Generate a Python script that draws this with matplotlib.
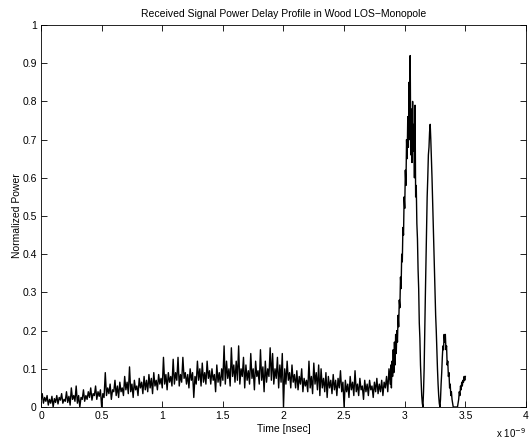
import matplotlib
matplotlib.use("Agg")
import matplotlib.pyplot as plt
import numpy as np

plt.rcParams["font.family"] = ["Liberation Sans", "DejaVu Sans"]

# background multipath floor, sampled every 0.01 ns from 0 to 2.87 ns
floor_start, floor_step = 0.0, 0.01
floor_power = [
    0.02, 0.035, 0.01, 0.025, 0.015, 0.03, 0.005, 0.02, 0.01, 0.028,
    0.0, 0.022, 0.012, 0.03, 0.008, 0.025, 0.018, 0.035, 0.01, 0.02,
    0.015, 0.04, 0.012, 0.028, 0.005, 0.05, 0.02, 0.03, 0.015, 0.055,
    0.01, 0.03, 0.0, 0.025, 0.02, 0.045, 0.015, 0.03, 0.02, 0.04,
    0.025, 0.05, 0.018, 0.035, 0.03, 0.055, 0.02, 0.04, 0.028, 0.045,
    0.0, 0.035, 0.025, 0.09, 0.03, 0.05, 0.035, 0.06, 0.02, 0.045,
    0.04, 0.07, 0.03, 0.055, 0.025, 0.065, 0.04, 0.05, 0.03, 0.08,
    0.045, 0.065, 0.035, 0.105, 0.04, 0.06, 0.025, 0.07, 0.045, 0.055,
    0.03, 0.075, 0.05, 0.065, 0.035, 0.08, 0.045, 0.07, 0.04, 0.085,
    0.05, 0.075, 0.035, 0.09, 0.055, 0.07, 0.045, 0.085, 0.06, 0.075,
    0.05, 0.13, 0.06, 0.085, 0.045, 0.09, 0.065, 0.08, 0.055, 0.125,
    0.06, 0.09, 0.07, 0.13, 0.055, 0.085, 0.065, 0.13, 0.075, 0.09,
    0.06, 0.085, 0.05, 0.1, 0.07, 0.09, 0.025, 0.08, 0.06, 0.12,
    0.07, 0.1, 0.055, 0.115, 0.065, 0.09, 0.06, 0.12, 0.075, 0.095,
    0.06, 0.1, 0.07, 0.085, 0.04, 0.11, 0.065, 0.09, 0.055, 0.1,
    0.07, 0.16, 0.06, 0.12, 0.075, 0.1, 0.055, 0.155, 0.08, 0.11,
    0.065, 0.12, 0.07, 0.16, 0.06, 0.1, 0.08, 0.13, 0.05, 0.11,
    0.07, 0.095, 0.06, 0.14, 0.075, 0.1, 0.045, 0.12, 0.08, 0.095,
    0.06, 0.15, 0.07, 0.105, 0.04, 0.12, 0.065, 0.1, 0.08, 0.155,
    0.07, 0.14, 0.06, 0.1, 0.075, 0.13, 0.05, 0.11, 0.065, 0.14,
    0.0, 0.1, 0.06, 0.12, 0.07, 0.09, 0.05, 0.11, 0.065, 0.085,
    0.05, 0.095, 0.045, 0.08, 0.06, 0.1, 0.04, 0.075, 0.055, 0.07,
    0.04, 0.12, 0.05, 0.08, 0.035, 0.115, 0.06, 0.09, 0.045, 0.11,
    0.03, 0.1, 0.05, 0.075, 0.04, 0.09, 0.025, 0.08, 0.05, 0.07,
    0.035, 0.085, 0.045, 0.07, 0.03, 0.075, 0.05, 0.095, 0.04, 0.065,
    0.0, 0.07, 0.04, 0.06, 0.025, 0.08, 0.045, 0.065, 0.03, 0.095,
    0.04, 0.06, 0.03, 0.075, 0.045, 0.055, 0.02, 0.07, 0.04, 0.06,
    0.03, 0.07, 0.045, 0.055, 0.025, 0.065, 0.04, 0.075, 0.035, 0.06,
    0.04, 0.07, 0.03, 0.065, 0.05, 0.08, 0.04, 0.1,
]

# main arrival cluster, sampled every 0.005 ns from 2.88 to 3.50 ns
peak_start, peak_step = 2.88, 0.005
peak_power = [
    0.06, 0.11, 0.05, 0.12, 0.08, 0.15, 0.09, 0.17, 0.11, 0.19,
    0.14, 0.20, 0.17, 0.24, 0.21, 0.28, 0.26, 0.34, 0.31, 0.40,
    0.38, 0.47, 0.45, 0.55, 0.52, 0.62, 0.58, 0.70, 0.65, 0.76,
    0.68, 0.85, 0.70, 0.92, 0.66, 0.78, 0.64, 0.80, 0.67, 0.74,
    0.60, 0.79, 0.55, 0.58, 0.48, 0.44, 0.36, 0.31, 0.22, 0.18,
    0.11, 0.07, 0.03, 0.01, 0.00, 0.04, 0.10, 0.20, 0.29, 0.38,
    0.46, 0.55, 0.60, 0.66, 0.68, 0.72, 0.74, 0.70, 0.65, 0.60,
    0.54, 0.48, 0.43, 0.36, 0.30, 0.24, 0.20, 0.15, 0.10, 0.06,
    0.03, 0.01, 0.00, 0.02, 0.06, 0.09, 0.13, 0.16, 0.15, 0.19,
    0.17, 0.19, 0.15, 0.16, 0.11, 0.12, 0.08, 0.09, 0.05, 0.06,
    0.03, 0.04, 0.02, 0.01, 0.00, 0.00, 0.00, 0.00, 0.00, 0.00,
    0.00, 0.00, 0.01, 0.02, 0.04, 0.03, 0.055, 0.045, 0.065, 0.055,
    0.07, 0.065, 0.08, 0.07, 0.08,
]

x_ticks = [0, 0.5, 1, 1.5, 2, 2.5, 3, 3.5, 4]
y_ticks = [0, 0.1, 0.2, 0.3, 0.4, 0.5, 0.6, 0.7, 0.8, 0.9, 1]

t_floor = floor_start + floor_step * np.arange(len(floor_power))
t_peak = peak_start + peak_step * np.arange(len(peak_power))
t = np.concatenate([t_floor, t_peak])
power = np.concatenate([floor_power, peak_power])

fig = plt.figure(figsize=(5.3, 4.44), dpi=100)
ax = fig.add_axes([0.0774, 0.0833, 0.915, 0.8604])
ax.plot(t, power, color="black", lw=1.0)

ax.set_xlim(0, 4)
ax.set_ylim(0, 1)
ax.set_xticks(x_ticks)
ax.set_xticklabels([f"{v:g}" for v in x_ticks])
ax.set_yticks(y_ticks)
ax.set_yticklabels([f"{v:g}" for v in y_ticks])
ax.tick_params(direction="in", top=True, right=True, length=4, width=0.6,
               labelsize=7.5, pad=3)
for s in ax.spines.values():
    s.set_linewidth(0.6)

ax.set_xlabel("Time [nsec]", fontsize=7.5, labelpad=2)
ax.set_ylabel("Normalized Power", fontsize=7.5, labelpad=0)
ax.set_title("Received Signal Power Delay Profile in Wood LOS\u2212Monopole",
             fontsize=7.5, pad=6)
fig.text(0.992, 0.008, r"x 10$^{-9}$", fontsize=7, ha="right", va="bottom")

fig.savefig("out.png", dpi=100)
